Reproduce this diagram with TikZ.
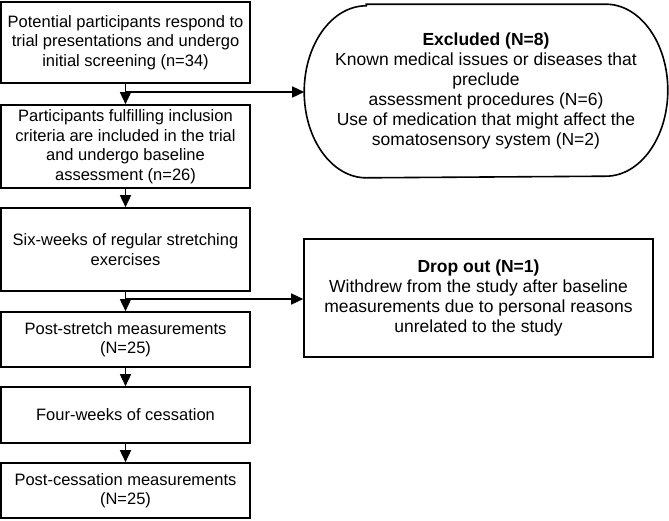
\documentclass[tikz,border=0pt]{standalone}
\usepackage{fontspec}
\setmainfont{Liberation Sans}
\usetikzlibrary{positioning,arrows.meta}

\begin{document}
\begin{tikzpicture}[x=1pt,y=1pt,
                box/.style = {draw, line width=1.6pt, minimum width=249pt, align=center, inner sep=2pt, font=\fontsize{16.5}{19.5}\selectfont},
                side/.style = {box, font=\fontsize{17.5}{20}\selectfont},
                arr/.style = {-{Triangle[length=12pt,width=11pt]}, line width=1.5pt}]
    \useasboundingbox (0,0) rectangle (669,-520);

    \node[box, minimum height=81pt] (screen) at (125.5,-42.5) {Potential participants respond to\\trial presentations and undergo\\initial screening (n=34)};
    \node[box, minimum height=83pt] (incl) at (125.5,-146.5) {Participants fulfilling inclusion\\criteria are included in the trial\\and undergo baseline\\assessment (n=26)};
    \node[box, minimum height=83pt] (stretch) at (125.5,-249.5) {Six-weeks of regular stretching\\exercises};
    \node[box, minimum height=55pt] (post1) at (125.5,-339.5) {Post-stretch measurements\\(N=25)};
    \node[box, minimum height=56pt] (cess) at (125.5,-415) {Four-weeks of cessation};
    \node[box, minimum height=55pt] (post2) at (125.5,-490.5) {Post-cessation measurements\\(N=25)};

    \node[side, draw=none, minimum width=362pt, minimum height=172pt] (excl) at (486,-91) {\textbf{Excluded (N=8)}\\Known medical issues or diseases that\\preclude\\assessment procedures (N=6)\\Use of medication that might affect the\\somatosensory system (N=2)};
    \draw[line width=1.6pt] ([xshift=62pt]excl.north west) -- ([xshift=-62pt]excl.north east)
        arc[start angle=90, end angle=-90, x radius=62, y radius=86]
        -- ([xshift=62pt]excl.south west)
        arc[start angle=270, end angle=90, x radius=62, y radius=86] -- cycle;
    \node[side, minimum width=349pt, minimum height=118pt] (drop) at (478.5,-298) {\textbf{Drop out (N=1)}\\Withdrew from the study after baseline\\measurements due to personal reasons\\unrelated to the study};

    \coordinate (j1) at (125.5,-92);
    \coordinate (j2) at (125.5,-299);

    \draw[arr] (screen) -- (incl);
    \draw[arr] (j1) -- (j1 -| excl.west);
    \draw[arr] (incl) -- (stretch);
    \draw[arr] (stretch) -- (post1);
    \draw[arr] (j2) -- (j2 -| drop.west);
    \draw[arr] (post1) -- (cess);
    \draw[arr] (cess) -- (post2);
\end{tikzpicture}
\end{document}
